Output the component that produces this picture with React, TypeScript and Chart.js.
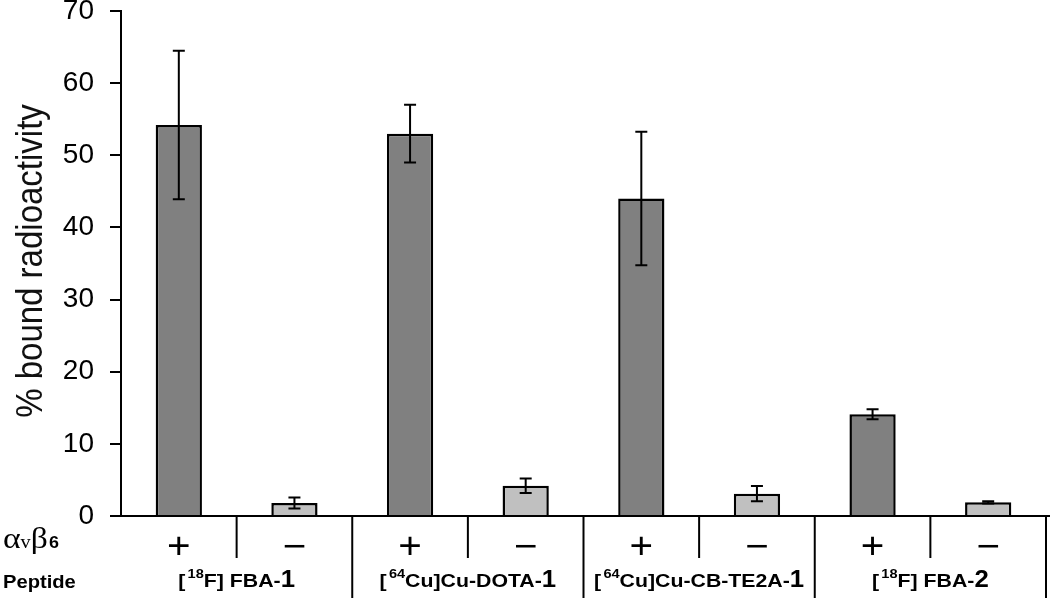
import React, { useEffect, useRef } from "react";
import { Chart, registerables } from "chart.js";

Chart.register(...registerables);

// ---- data ----
const categories = ["FBA-1 +", "FBA-1 −", "DOTA-1 +", "DOTA-1 −", "CB-TE2A-1 +", "CB-TE2A-1 −", "FBA-2 +", "FBA-2 −"];
const receptorLabels = ["+", "−", "+", "−", "+", "−", "+", "−"];
const values = [54.2, 1.8, 53.0, 4.2, 44.0, 3.1, 14.1, 1.9];
const errors = [10.3, 0.75, 4.0, 1.0, 9.25, 1.05, 0.7, 0.15];
const yTicks = [0, 10, 20, 30, 40, 50, 60, 70];
const yTitle = "% bound radioactivity";
const rowLabelPeptide = "Peptide";
// peptide labels as [normal, superscript, normal, bold suffix]
const peptidePre = ["[", "[", "[", "["];
const peptideSup = ["18", "64", "64", "18"];
const peptideMid = ["F] FBA-", "Cu]Cu-DOTA-", "Cu]Cu-CB-TE2A-", "F] FBA-"];
const peptideNum = ["1", "1", "1", "2"];

const SANS = "'Liberation Sans', Arial, sans-serif";
const SERIF = "'Liberation Serif', 'Times New Roman', serif";
const DARK = "#808080";
const LIGHT = "#c0c0c0";
const SX = 1.12; // horizontal stretch of the reference's lettering

type Run = { text: string; font: string; dy: number; dx?: number };

function drawRuns(ctx: CanvasRenderingContext2D, runs: Run[], x: number, y: number, align: "center" | "left") {
  let total = 0;
  const widths = runs.map((r) => {
    ctx.font = r.font;
    const w = ctx.measureText(r.text).width + (r.dx || 0);
    total += w;
    return w;
  });
  ctx.save();
  const startX = align === "center" ? x - (total * SX) / 2 : x;
  ctx.translate(startX, y);
  ctx.scale(SX, 1);
  let cx = 0;
  runs.forEach((r, i) => {
    ctx.font = r.font;
    ctx.textAlign = "left";
    ctx.textBaseline = "alphabetic";
    ctx.fillText(r.text, cx + (r.dx || 0), r.dy);
    cx += widths[i];
  });
  ctx.restore();
}

const decorPlugin = {
  id: "decor",
  afterDatasetsDraw(chart: any) {
    const ctx: CanvasRenderingContext2D = chart.ctx;
    const meta = chart.getDatasetMeta(0);
    const y = chart.scales.y;
    const area = chart.chartArea;
    ctx.save();
    ctx.strokeStyle = "#000";
    ctx.lineWidth = 2;
    // error bars
    meta.data.forEach((bar: any, i: number) => {
      const x = bar.x;
      const top = y.getPixelForValue(values[i] + errors[i]);
      const bot = y.getPixelForValue(values[i] - errors[i]);
      ctx.beginPath();
      ctx.moveTo(x, top);
      ctx.lineTo(x, bot);
      ctx.moveTo(x - 6, top);
      ctx.lineTo(x + 6, top);
      ctx.moveTo(x - 6, bot);
      ctx.lineTo(x + 6, bot);
      ctx.stroke();
    });
    // x axis line
    const base = area.bottom;
    ctx.beginPath();
    ctx.moveTo(area.left, base);
    ctx.lineTo(chart.width, base);
    ctx.stroke();
    // separators
    const xs = chart.scales.x;
    const n = categories.length;
    const step = (area.right - area.left) / n;
    for (let k = 1; k <= n; k++) {
      const sx = area.left + k * step;
      const major = k % 2 === 0;
      ctx.beginPath();
      ctx.moveTo(sx, base);
      ctx.lineTo(sx, major ? chart.height : base + 42);
      ctx.stroke();
    }
    // receptor row
    ctx.fillStyle = "#000";
    receptorLabels.forEach((lab, i) => {
      drawRuns(ctx, [{ text: lab, font: `36px ${SANS}`, dy: 0 }], xs.getPixelForValue(i), 558, "center");
    });
    // peptide row
    for (let p = 0; p < peptideMid.length; p++) {
      const cx = (xs.getPixelForValue(2 * p) + xs.getPixelForValue(2 * p + 1)) / 2;
      drawRuns(
        ctx,
        [
          { text: peptidePre[p], font: `bold 19px ${SANS}`, dy: 0 },
          { text: peptideSup[p], font: `bold 13px ${SANS}`, dy: -9, dx: 2 },
          { text: peptideMid[p], font: `bold 19px ${SANS}`, dy: 0 },
          { text: peptideNum[p], font: `bold 23px ${SANS}`, dy: 0 },
        ],
        cx,
        587,
        "center"
      );
    }
    // row labels
    drawRuns(
      ctx,
      [
        { text: "α", font: `30px ${SERIF}`, dy: 0 },
        { text: "v", font: `18px ${SERIF}`, dy: 0 },
        { text: "β", font: `30px ${SERIF}`, dy: 0 },
        { text: "6", font: `bold 16px ${SANS}`, dy: 0, dx: 1 },
      ],
      3,
      548,
      "left"
    );
    drawRuns(ctx, [{ text: rowLabelPeptide, font: `bold 18px ${SANS}`, dy: 0 }], 3, 588, "left");
    // y title
    ctx.save();
    ctx.translate(42, 261);
    ctx.rotate(-Math.PI / 2);
    ctx.scale(1, 1.12);
    ctx.font = `33px ${SANS}`;
    ctx.textAlign = "center";
    ctx.textBaseline = "alphabetic";
    ctx.fillStyle = "#111";
    ctx.fillText(yTitle, 0, 0);
    ctx.restore();
    ctx.restore();
  },
};

export default function App() {
  const ref = useRef<HTMLCanvasElement | null>(null);
  useEffect(() => {
    if (!ref.current) return;
    const chart = new Chart(ref.current, {
      type: "bar",
      data: {
        labels: categories,
        datasets: [
          {
            data: values,
            backgroundColor: values.map((_, i) => (i % 2 === 0 ? DARK : LIGHT)),
            borderColor: "#000",
            borderWidth: 2.5,
            categoryPercentage: 1,
            barPercentage: 0.4,
          },
        ],
      },
      options: {
        animation: false,
        responsive: false,
        devicePixelRatio: 1,
        layout: { padding: { left: 0, top: 11, right: 4, bottom: 82 } },
        plugins: { legend: { display: false }, tooltip: { enabled: false } },
        scales: {
          x: { type: "category", display: false },
          y: {
            min: 0,
            max: 70,
            afterBuildTicks: (s: any) => {
              s.ticks = yTicks.map((v) => ({ value: v }));
            },
            afterFit: (s: any) => {
              s.width = 121;
              s.paddingTop = 0;
              s.paddingBottom = 0;
            },
            ticks: { color: "#000", font: { size: 28, family: SANS }, padding: 16 },
            grid: { drawOnChartArea: false, color: "#000", lineWidth: 2, tickLength: 11 },
            border: { color: "#000", width: 2 },
          },
        },
      },
      plugins: [decorPlugin],
    });
    return () => chart.destroy();
  }, []);
  return (
    <div style={{ position: "fixed", left: 0, top: 0, width: 1050, height: 598, background: "#fff" }}>
      <canvas ref={ref} width={1050} height={598} style={{ width: 1050, height: 598 }} />
    </div>
  );
}
